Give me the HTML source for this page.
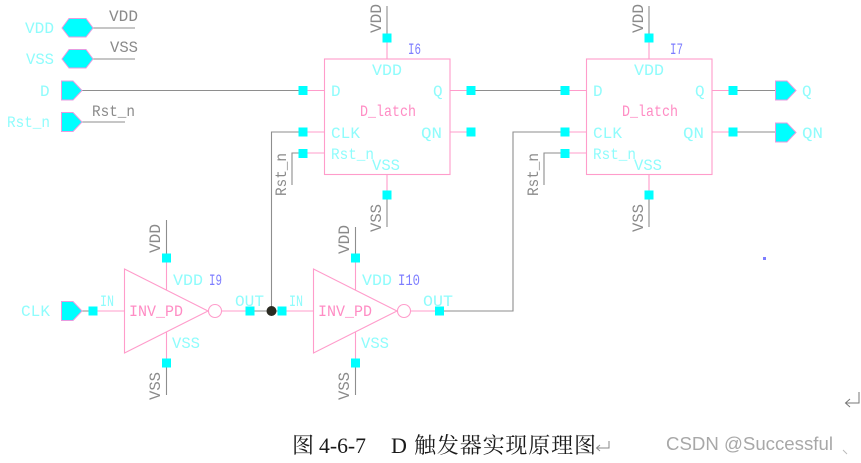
<!DOCTYPE html>
<html><head><meta charset="utf-8"><style>
html,body{margin:0;padding:0;background:#fff;width:861px;height:463px;overflow:hidden}
svg{display:block}
text{font-family:"Liberation Mono",monospace;font-size:16px}
.c{fill:#8ffcfc}
.g{fill:#8a8a8a}
.p{fill:#ff8cc4}
.b{fill:#7d7dff}
.w{stroke:#8e8e8e;stroke-width:1.1;fill:none}
.m{stroke:#ff9ccb;stroke-width:1.1;fill:none}
.s{fill:#00ffff}
.pin{fill:#00ffff;stroke:#e79be0;stroke-width:1}
</style></head><body>
<svg width="861" height="463" viewBox="0 0 861 463" xmlns="http://www.w3.org/2000/svg">
<!-- grey wires -->
<g class="w">
<path d="M93 28H135M93 59H135M82 90.500H303M82 122H125"/>
<path d="M387 6V38M387 195V227M649 6V38M649 195V227"/>
<path d="M471 90.500H565M733 90.500H775M733 132H775"/>
<path d="M303 132H271.500V311M303 153H292V185M565 132H513V311H440M565 153H544V185"/>
<path d="M166.500 220V258M166.500 363V395M355.500 227V258M355.500 363V395"/>
<path d="M82 311H93M250 311H282"/>
</g>
<!-- pink symbols -->
<g class="m">
<rect x="324.500" y="59" width="125.500" height="115.500"/>
<rect x="586.500" y="59" width="125.500" height="115.500"/>
<path d="M387 38V59M387 174.500V195M303 90.500H324.500M303 132H324.500M303 153H324.500M450 90.500H471M450 132H471"/>
<path d="M649 38V59M649 174.500V195M565 90.500H586.500M565 132H586.500M565 153H586.500M712 90.500H733M712 132H733"/>
<path d="M124.500 269V353L208 311ZM93 311H124.500M166.500 258V290M166.500 332V363M221.500 311H250"/>
<circle cx="215" cy="311" r="6.500"/>
<path d="M313.500 269V353L397 311ZM282 311H313.500M355.500 258V290M355.500 332V363M410.500 311H440"/>
<circle cx="404" cy="311" r="6.500"/>
</g>
<!-- ports -->
<g class="pin">
<path d="M62 28L69 18.500H86L93 28L86 37H69Z"/>
<path d="M62 59L69 49.500H86L93 59L86 68H69Z"/>
<path d="M61.500 81H73L82 90.500L73 100H61.500Z"/>
<path d="M61.500 112.500H73L82 122L73 131.500H61.500Z"/>
<path d="M61.500 301.500H73L82 311L73 320.500H61.500Z"/>
<path d="M775.500 81H787L796 90.500L787 100H775.500Z"/>
<path d="M775.500 123H787L796 132.500L787 142H775.500Z"/>
</g>
<!-- squares -->
<g class="s">
<rect x="382.500" y="33.500" width="9" height="9"/><rect x="382.500" y="190.500" width="9" height="9"/>
<rect x="298.500" y="86" width="9" height="9"/><rect x="298.500" y="127.500" width="9" height="9"/><rect x="298.500" y="149" width="9" height="9"/>
<rect x="466.500" y="86" width="9" height="9"/><rect x="466.500" y="127.500" width="9" height="9"/>
<rect x="644.500" y="33.500" width="9" height="9"/><rect x="644.500" y="190.500" width="9" height="9"/>
<rect x="560.500" y="86" width="9" height="9"/><rect x="560.500" y="127.500" width="9" height="9"/><rect x="560.500" y="149" width="9" height="9"/>
<rect x="728.500" y="86" width="9" height="9"/><rect x="728.500" y="127.500" width="9" height="9"/>
<rect x="88.500" y="306.500" width="9" height="9"/><rect x="245.500" y="306.500" width="9" height="9"/>
<rect x="277.500" y="306.500" width="9" height="9"/><rect x="435" y="306.500" width="9" height="9"/>
<rect x="162" y="253.500" width="9" height="9"/><rect x="162" y="358.500" width="9" height="9"/>
<rect x="351" y="253.500" width="9" height="9"/><rect x="351" y="358.500" width="9" height="9"/>
</g>
<circle cx="271.500" cy="311" r="5" fill="#2b2b22"/>
<rect x="763" y="257" width="3" height="3" fill="#7d7dff"/>
<!-- port labels -->
<text class="c" x="25" y="33" textLength="29" lengthAdjust="spacingAndGlyphs">VDD</text>
<text class="c" x="26" y="64" textLength="28" lengthAdjust="spacingAndGlyphs">VSS</text>
<text class="c" x="40" y="96">D</text>
<text class="c" x="7" y="127" textLength="43" lengthAdjust="spacingAndGlyphs">Rst_n</text>
<text class="c" x="21" y="316" textLength="29" lengthAdjust="spacingAndGlyphs">CLK</text>
<text class="c" x="802" y="96">Q</text>
<text class="c" x="802" y="138" textLength="21" lengthAdjust="spacingAndGlyphs">QN</text>
<text class="g" x="109" y="21" textLength="29" lengthAdjust="spacingAndGlyphs">VDD</text>
<text class="g" x="110" y="52" textLength="28" lengthAdjust="spacingAndGlyphs">VSS</text>
<text class="g" x="92" y="116" textLength="43" lengthAdjust="spacingAndGlyphs">Rst_n</text>
<!-- I6 -->
<text class="b" x="408" y="54" textLength="13" lengthAdjust="spacingAndGlyphs">I6</text>
<text class="c" x="372" y="75" textLength="30" lengthAdjust="spacingAndGlyphs">VDD</text>
<text class="c" x="331" y="96">D</text>
<text class="c" x="433" y="96">Q</text>
<text class="p" x="360" y="116" textLength="56" lengthAdjust="spacingAndGlyphs">D_latch</text>
<text class="c" x="331" y="138" textLength="29" lengthAdjust="spacingAndGlyphs">CLK</text>
<text class="c" x="421" y="138" textLength="21" lengthAdjust="spacingAndGlyphs">QN</text>
<text class="c" x="331" y="159" textLength="43" lengthAdjust="spacingAndGlyphs">Rst_n</text>
<text class="c" x="372" y="170" textLength="28" lengthAdjust="spacingAndGlyphs">VSS</text>
<!-- I7 -->
<text class="b" x="670" y="54" textLength="13" lengthAdjust="spacingAndGlyphs">I7</text>
<text class="c" x="634" y="75" textLength="30" lengthAdjust="spacingAndGlyphs">VDD</text>
<text class="c" x="593" y="96">D</text>
<text class="c" x="695" y="96">Q</text>
<text class="p" x="622" y="116" textLength="56" lengthAdjust="spacingAndGlyphs">D_latch</text>
<text class="c" x="593" y="138" textLength="29" lengthAdjust="spacingAndGlyphs">CLK</text>
<text class="c" x="683" y="138" textLength="21" lengthAdjust="spacingAndGlyphs">QN</text>
<text class="c" x="593" y="159" textLength="43" lengthAdjust="spacingAndGlyphs">Rst_n</text>
<text class="c" x="634" y="170" textLength="28" lengthAdjust="spacingAndGlyphs">VSS</text>
<!-- I9 -->
<text class="c" x="100" y="306" textLength="14" lengthAdjust="spacingAndGlyphs">IN</text>
<text class="p" x="129" y="316" textLength="54" lengthAdjust="spacingAndGlyphs">INV_PD</text>
<text class="c" x="173" y="285" textLength="30" lengthAdjust="spacingAndGlyphs">VDD</text>
<text class="b" x="209" y="285" textLength="13" lengthAdjust="spacingAndGlyphs">I9</text>
<text class="c" x="172" y="348" textLength="28" lengthAdjust="spacingAndGlyphs">VSS</text>
<text class="c" x="235" y="306" textLength="29" lengthAdjust="spacingAndGlyphs">OUT</text>
<!-- I10 -->
<text class="c" x="289" y="306" textLength="14" lengthAdjust="spacingAndGlyphs">IN</text>
<text class="p" x="318" y="316" textLength="54" lengthAdjust="spacingAndGlyphs">INV_PD</text>
<text class="c" x="362" y="285" textLength="30" lengthAdjust="spacingAndGlyphs">VDD</text>
<text class="b" x="398" y="285" textLength="22" lengthAdjust="spacingAndGlyphs">I10</text>
<text class="c" x="361" y="348" textLength="28" lengthAdjust="spacingAndGlyphs">VSS</text>
<text class="c" x="423" y="306" textLength="30" lengthAdjust="spacingAndGlyphs">OUT</text>
<!-- rotated -->
<text class="g" transform="translate(381 33) rotate(-90)" textLength="29" lengthAdjust="spacingAndGlyphs">VDD</text>
<text class="g" transform="translate(381 232) rotate(-90)" textLength="28" lengthAdjust="spacingAndGlyphs">VSS</text>
<text class="g" transform="translate(643 33) rotate(-90)" textLength="29" lengthAdjust="spacingAndGlyphs">VDD</text>
<text class="g" transform="translate(643 232) rotate(-90)" textLength="28" lengthAdjust="spacingAndGlyphs">VSS</text>
<text class="g" transform="translate(160 253) rotate(-90)" textLength="29" lengthAdjust="spacingAndGlyphs">VDD</text>
<text class="g" transform="translate(160 400) rotate(-90)" textLength="28" lengthAdjust="spacingAndGlyphs">VSS</text>
<text class="g" transform="translate(349 254) rotate(-90)" textLength="29" lengthAdjust="spacingAndGlyphs">VDD</text>
<text class="g" transform="translate(349 400) rotate(-90)" textLength="28" lengthAdjust="spacingAndGlyphs">VSS</text>
<text class="g" transform="translate(286 196) rotate(-90)" textLength="43" lengthAdjust="spacingAndGlyphs">Rst_n</text>
<text class="g" transform="translate(538 196) rotate(-90)" textLength="43" lengthAdjust="spacingAndGlyphs">Rst_n</text>
<!-- return marks -->
<path d="M859 392V403H846M850 399L845.500 403L850 407" fill="none" stroke="#777" stroke-width="1"/>
<path d="M609 441V448H597M600 445L596.500 448L600 451" fill="none" stroke="#888" stroke-width="1"/>
<!-- caption -->
<text x="292" y="453" fill="#1a1a1a" style="font-family:'Liberation Serif','Noto Serif CJK SC',serif;font-size:22px">图<tspan x="319" textLength="47" lengthAdjust="spacingAndGlyphs">4-6-7</tspan><tspan x="391">D</tspan><tspan x="414" textLength="182" lengthAdjust="spacing">触发器实现原理图</tspan></text>
<text x="666" y="450" fill="#a8a8a8" style="font-family:'Liberation Sans',sans-serif;font-size:18px" textLength="167" lengthAdjust="spacingAndGlyphs">CSDN @Successful</text>
<path d="M843 450L847 454" stroke="#bbb" stroke-width="1"/>
</svg>
</body></html>
